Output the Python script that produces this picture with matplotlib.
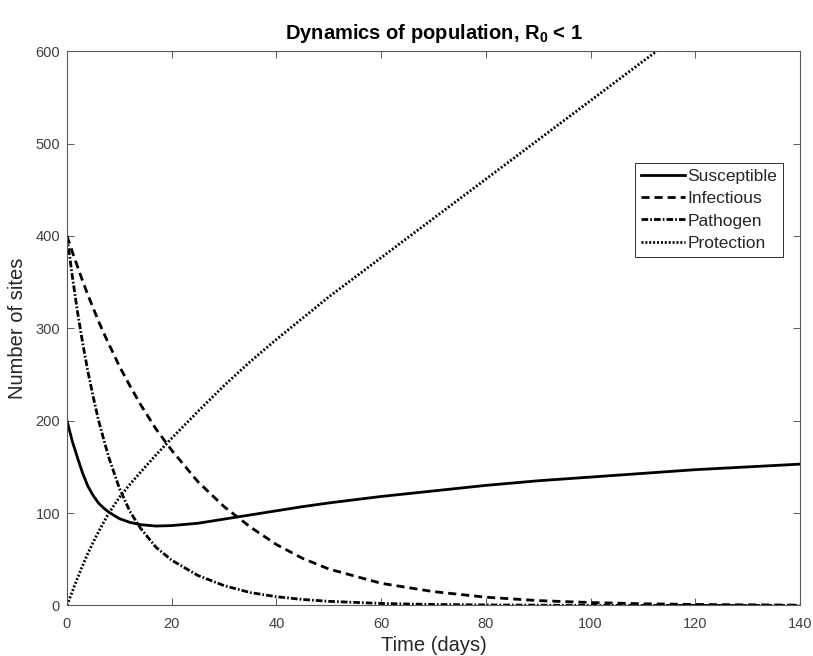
import numpy as np
import matplotlib
matplotlib.use('Agg')
import matplotlib.pyplot as plt

plt.rcParams['font.family'] = ['Liberation Sans', 'DejaVu Sans']
plt.rcParams['mathtext.fontset'] = 'custom'
plt.rcParams['mathtext.rm'] = 'Liberation Sans'
plt.rcParams['mathtext.bf'] = 'Liberation Sans:bold'

# sampled solution of the model (days)
tempo = [0, 1, 2, 3, 4, 5, 6, 7, 8, 10, 12, 14, 17, 20, 25, 30, 35, 40, 45, 50,
         60, 70, 80, 90, 100, 110, 120, 130, 140]
susceptivel = [200, 178, 160, 143, 129, 119, 111, 105.5, 101, 94, 90, 87.5, 86, 86.5,
               89, 93.5, 98, 102.5, 107, 111, 118, 124, 130, 135, 139, 143, 147, 150, 153]
infeccioso = [400, 383, 367, 351, 336, 322, 308, 295, 283, 259, 238, 218, 191, 168,
              134, 107, 85, 66, 51, 39.5, 24, 15, 9, 5.3, 3.2, 1.9, 1.1, 0.7, 0.4]
patogeno = [400, 357, 318, 284, 253, 226, 201, 180, 160, 127, 102, 84, 63, 49,
            32.5, 21.5, 14, 9.5, 6.5, 4.5, 2.2, 1.1, 0.6, 0.35, 0.2, 0.12, 0.08, 0.05, 0.03]

tempo_protecao = [0, 1, 2, 3, 4, 5, 6, 7, 8, 10, 12, 14, 17, 20, 25, 30, 35, 40, 45, 50,
                  60, 70, 80, 90, 100, 110, 120]
protecao = [0, 15, 29.5, 43.5, 56.5, 68.5, 79.5, 90, 100, 117, 131, 144, 163, 181,
            210, 238, 264, 288, 311, 334, 376.5, 419, 461.5, 504, 546.5, 589, 631]

cor_eixo = '#5a5a5a'
cor_texto = '#262626'

fig = plt.figure(figsize=(8.13, 6.56), dpi=100)
ax = fig.add_axes([0.0824, 0.077, 0.9016, 0.845])

lw = 2.0
ax.plot(tempo, susceptivel, color='black', lw=lw, linestyle='-', label='Susceptible')
ax.plot(tempo, infeccioso, color='black', lw=lw, dashes=(2.9, 1.8), label='Infectious')
ax.plot(tempo, patogeno, color='black', lw=lw, dashes=(2.4, 0.75, 0.6, 0.75), label='Pathogen')
ax.plot(tempo_protecao, protecao, color='black', lw=lw, dashes=(0.7, 0.7), label='Protection')

ax.set_xlim(0, 140)
ax.set_ylim(0, 600)
ax.set_xticks(np.arange(0, 141, 20))
ax.set_yticks(np.arange(0, 601, 100))

for lado in ax.spines.values():
    lado.set_color(cor_eixo)
    lado.set_linewidth(0.8)

ax.tick_params(direction='in', top=True, right=True, length=5.2, width=0.7,
               color=cor_eixo, labelcolor='#404040', labelsize=10.5)
ax.tick_params(axis='x', pad=8)
ax.tick_params(axis='y', pad=5)

ax.set_xlabel('Time (days)', fontsize=14.5, color=cor_texto, labelpad=4)
ax.set_ylabel('Number of sites', fontsize=14.5, color=cor_texto, labelpad=6)
ax.set_title(r'Dynamics of population, $\mathbf{R_0}$ < 1', fontsize=14.5,
             fontweight='bold', color='black', pad=9)

leg = ax.legend(loc='upper right', bbox_to_anchor=(0.977, 0.798), borderaxespad=0,
                fontsize=12.5, labelspacing=0.4, handlelength=2.5, handletextpad=0.15,
                borderpad=0.35, fancybox=False, framealpha=1)
leg.get_frame().set_edgecolor('#303030')
leg.get_frame().set_linewidth(0.7)
for txt in leg.get_texts():
    txt.set_color(cor_texto)

fig.savefig('out.png', dpi=100)
